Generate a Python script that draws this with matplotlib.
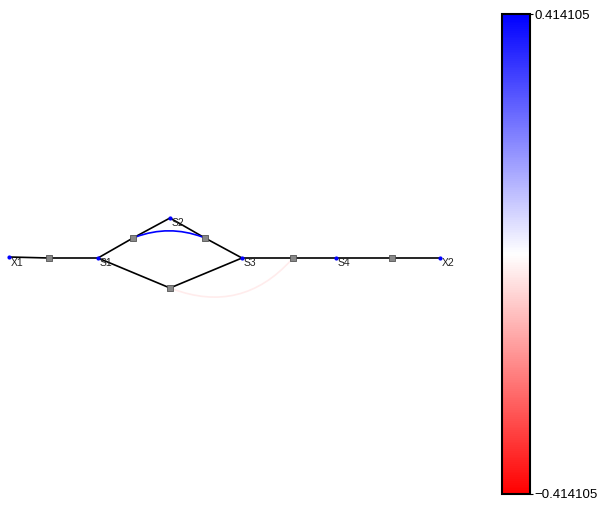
import matplotlib
matplotlib.use("Agg")
import matplotlib.pyplot as plt
import matplotlib.colors as mcolors
from matplotlib.patches import FancyArrowPatch
import numpy as np

plt.rcParams["font.family"] = ["Liberation Sans", "DejaVu Sans"]

# node positions (layout units, y down)
node_names = ["X1", "S1", "S2", "S3", "S4", "X2"]
node_x = [9, 98, 170, 242, 336, 440]
node_y = [257, 258, 218, 258, 258, 258]

# intermediate (square) nodes
mid_x = [49, 133, 205, 170, 293, 392]
mid_y = [258, 238, 238, 288, 258, 258]

# straight edges: (from, to) as ("n", idx) / ("m", idx)
edges = [(("n", 0), ("m", 0)), (("m", 0), ("n", 1)),
         (("n", 1), ("m", 1)), (("m", 1), ("n", 2)),
         (("n", 2), ("m", 2)), (("m", 2), ("n", 3)),
         (("n", 1), ("m", 3)), (("m", 3), ("n", 3)),
         (("n", 3), ("m", 4)), (("m", 4), ("n", 4)),
         (("n", 4), ("m", 5)), (("m", 5), ("n", 5))]

# curved flows between square nodes and their values
flow_from = [1, 3]
flow_to = [2, 4]
flow_val = [0.414105, -0.03]
flow_rad = [-0.2, 0.35]
vmax = 0.414105


def pos(p):
    kind, i = p
    if kind == "n":
        return node_x[i], node_y[i]
    return mid_x[i], mid_y[i]


fig = plt.figure(figsize=(5.99, 5.07), dpi=100)
ax = fig.add_axes([0, 0, 480 / 599, 1])
ax.set_xlim(0, 480)
ax.set_ylim(507, 0)
ax.axis("off")

for a, b in edges:
    x0, y0 = pos(a)
    x1, y1 = pos(b)
    ax.plot([x0, x1], [y0, y1], color="black", lw=1.2, zorder=1)

cmap = plt.get_cmap("bwr_r")
norm = mcolors.Normalize(vmin=-vmax, vmax=vmax)
for f, t, v, r in zip(flow_from, flow_to, flow_val, flow_rad):
    p = FancyArrowPatch((mid_x[f], mid_y[f]), (mid_x[t], mid_y[t]),
                        connectionstyle=f"arc3,rad={r}", arrowstyle="-",
                        color=cmap(norm(v)), lw=1.2, zorder=2)
    ax.add_patch(p)

ax.scatter(mid_x, mid_y, marker="s", s=14, color="#888888",
           edgecolors="#555555", linewidths=0.6, zorder=3)
ax.scatter(node_x, node_y, marker="o", s=4, color="blue", zorder=3)
for n, x, y in zip(node_names, node_x, node_y):
    ax.text(x + 2, y + 0.5, n, fontsize=7.5, color="#222222",
            ha="left", va="top", zorder=4)

cax = fig.add_axes([502 / 599, 13 / 507, 28 / 599, 480 / 507])
sm = plt.cm.ScalarMappable(norm=norm, cmap=cmap)
cb = fig.colorbar(sm, cax=cax, ticks=[-vmax, vmax])
cb.ax.set_yticklabels(["\u22120.414105", "0.414105"], fontsize=9.5)
cb.outline.set_linewidth(1.5)
cb.ax.tick_params(length=2, width=0.8, pad=1)

fig.savefig("out.png", dpi=100)
